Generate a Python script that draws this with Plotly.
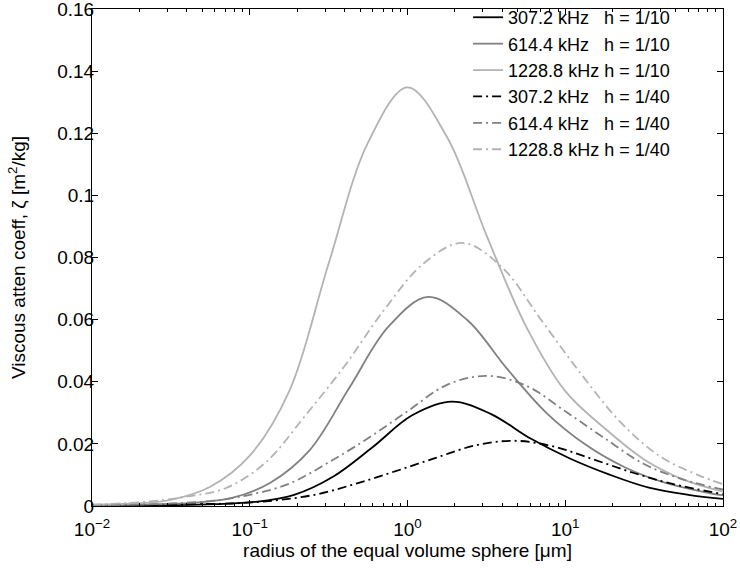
import plotly.graph_objects as go

# radius of the equal volume sphere [um] and viscous attenuation coefficient [m^2/kg]
# h = 1/10 (solid lines)
r_307_h10 = [0.01, 0.0191, 0.0339, 0.0603, 0.107, 0.191, 0.339, 0.603, 1.07,
             1.91, 3.39, 6.03, 10.7, 19.1, 33.9, 60.3, 100.0]
z_307_h10 = [0.0001, 0.0002, 0.0003, 0.0006, 0.0013, 0.0036, 0.0095, 0.0190, 0.0292,
             0.0336, 0.0296, 0.0217, 0.0153, 0.0101, 0.0059, 0.0036, 0.0023]

r_614_h10 = [0.01, 0.024, 0.0427, 0.0759, 0.135, 0.240, 0.427, 0.759, 1.35,
             2.40, 4.27, 7.59, 13.5, 24.0, 42.7, 75.9, 100.0]
z_614_h10 = [0.0002, 0.0005, 0.0010, 0.0025, 0.0075, 0.0180, 0.0380, 0.0578, 0.0673,
             0.0598, 0.0442, 0.0300, 0.0197, 0.0124, 0.0075, 0.0045, 0.0034]

r_1228_h10 = [0.01, 0.0178, 0.0316, 0.0562, 0.1, 0.178, 0.316, 0.562, 1.0,
              1.78, 3.16, 5.62, 10.0, 17.8, 31.6, 56.2, 100.0]
z_1228_h10 = [0.0004, 0.0008, 0.0020, 0.0062, 0.0162, 0.0370, 0.0780, 0.1170, 0.1348,
              0.1188, 0.0873, 0.0580, 0.0370, 0.0250, 0.0150, 0.0085, 0.0046]

# h = 1/40 (dash-dot lines)
r_307_h40 = [0.01, 0.0269, 0.0479, 0.0851, 0.151, 0.269, 0.479, 0.851, 1.51,
             2.69, 4.79, 8.51, 15.1, 26.9, 47.9, 100.0]
z_307_h40 = [0.0001, 0.0003, 0.0006, 0.0009, 0.0019, 0.0038, 0.0073, 0.0113, 0.0155,
             0.0195, 0.0210, 0.0191, 0.0150, 0.0107, 0.0071, 0.0038]

r_614_h40 = [0.01, 0.0178, 0.0316, 0.0562, 0.1, 0.178, 0.316, 0.562, 1.0,
             1.78, 3.16, 5.62, 10.0, 17.8, 31.6, 56.2, 100.0]
z_614_h40 = [0.0002, 0.0004, 0.0008, 0.0016, 0.0036, 0.0072, 0.0140, 0.0218, 0.0305,
             0.0390, 0.0419, 0.0388, 0.0305, 0.0218, 0.0135, 0.0085, 0.0053]

r_1228_h40 = [0.01, 0.0224, 0.0398, 0.0708, 0.126, 0.224, 0.398, 0.708, 1.26,
              2.24, 3.98, 7.08, 12.6, 22.4, 39.8, 70.8, 100.0]
z_1228_h40 = [0.0004, 0.0014, 0.0030, 0.0058, 0.0140, 0.0290, 0.0450, 0.0630, 0.0780,
              0.0847, 0.0768, 0.0597, 0.0425, 0.0270, 0.0160, 0.0098, 0.0070]

legend_names = ["307.2 kHz\u00a0\u00a0\u00a0h = 1/10", "614.4 kHz\u00a0\u00a0\u00a0h = 1/10",
                "1228.8 kHz h = 1/10", "307.2 kHz\u00a0\u00a0\u00a0h = 1/40",
                "614.4 kHz\u00a0\u00a0\u00a0h = 1/40", "1228.8 kHz h = 1/40"]
xs_all = [r_307_h10, r_614_h10, r_1228_h10, r_307_h40, r_614_h40, r_1228_h40]
ys_all = [z_307_h10, z_614_h10, z_1228_h10, z_307_h40, z_614_h40, z_1228_h40]
colors = ["#000000", "#808080", "#b3b3b3", "#000000", "#808080", "#b3b3b3"]
DASHDOT = "9px,4px,2px,4px"
dashes = ["solid", "solid", "solid", DASHDOT, DASHDOT, DASHDOT]

x_tickvals = [0.01, 0.1, 1, 10, 100]
x_ticktext = ["10<sup>\u22122</sup>", "10<sup>\u22121</sup>", "10<sup>0</sup>",
              "10<sup>1</sup>", "10<sup>2</sup>"]
minor_vals = [k * 10.0 ** e for e in range(-2, 2) for k in range(2, 10)]
y_tickvals = [0, 0.02, 0.04, 0.06, 0.08, 0.1, 0.12, 0.14, 0.16]
y_ticktext = ["0", "0.02", "0.04", "0.06", "0.08", "0.1", "0.12", "0.14", "0.16"]

fig = go.Figure()
for name, xs, ys, col, dash in zip(legend_names, xs_all, ys_all, colors, dashes):
    fig.add_trace(go.Scatter(x=xs, y=ys, mode="lines", name=name,
                             line=dict(color=col, width=1.8, dash=dash, shape="spline",
                                       smoothing=1.0)))

FAM = "Liberation Sans, Arial, Helvetica, sans-serif"
font = dict(family=FAM, size=19, color="black")
fig.update_layout(
    width=740, height=571,
    margin=dict(l=92, r=17, t=9, b=65, autoexpand=False),
    paper_bgcolor="white", plot_bgcolor="white",
    font=font,
    showlegend=True,
    legend=dict(x=0.596, y=1.020, xanchor="left", yanchor="top",
                bgcolor="rgba(0,0,0,0)", borderwidth=0,
                font=dict(family=FAM, size=18, color="black"),
                traceorder="normal"),
)
fig.update_xaxes(type="log", range=[-2, 2], showgrid=False, zeroline=False,
                 automargin=False, ticklabeloverflow="allow",
                 showline=True, linecolor="black", linewidth=1, mirror="ticks",
                 ticks="inside", ticklen=6, tickcolor="black",
                 tickvals=x_tickvals, ticktext=x_ticktext, ticklabelstandoff=6,
                 minor=dict(ticks="inside", ticklen=3, tickcolor="black",
                            tickvals=minor_vals, showgrid=False),
                 title=dict(text="radius of the equal volume sphere [\u03bcm]",
                            font=font, standoff=2))
fig.update_yaxes(range=[0, 0.16], showgrid=False, zeroline=False,
                 automargin=False, ticklabeloverflow="allow",
                 tickvals=y_tickvals, ticktext=y_ticktext, ticklabelstandoff=-7,
                 showline=True, linecolor="black", linewidth=1, mirror="ticks",
                 ticks="inside", ticklen=6, tickcolor="black",
                 title=dict(text="Viscous atten coeff, \u03b6 [m<sup>2</sup>/kg]",
                            font=font, standoff=26))

fig.write_html("out.html", config={"displayModeBar": False, "staticPlot": True},
               post_script="document.body.style.margin='0';")
